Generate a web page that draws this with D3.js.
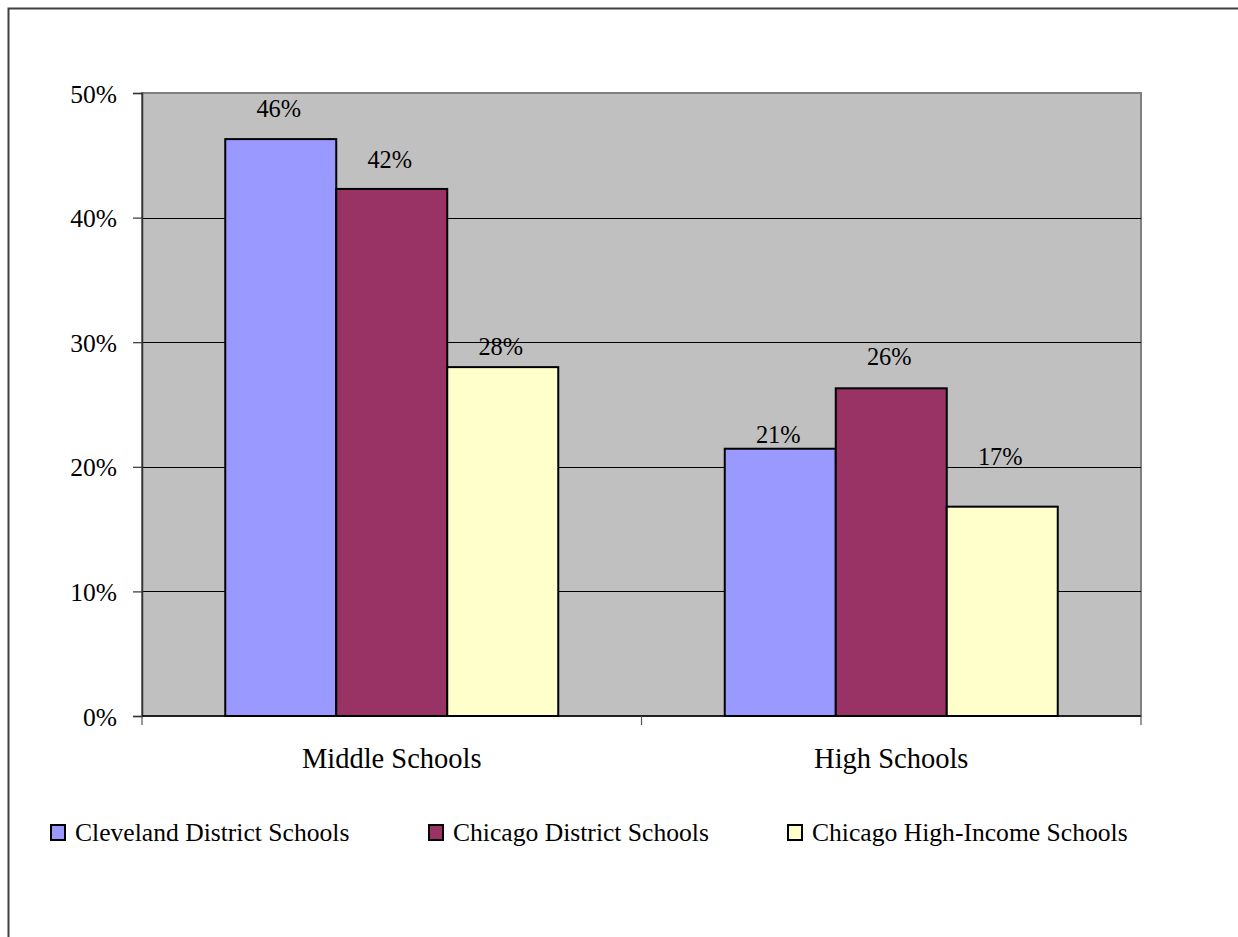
<!DOCTYPE html>
<html>
<head>
<meta charset="utf-8">
<script src="https://cdn.jsdelivr.net/npm/d3@7"></script>
<style>
  html, body { margin: 0; padding: 0; background: #fff; }
  svg { display: block; }
  text { font-family: "Liberation Serif", "Times New Roman", serif; fill: #000; }
</style>
</head>
<body>
<script>
// ---- data ----
const categories = ["Middle Schools", "High Schools"];
const seriesNames = ["Cleveland District Schools", "Chicago District Schools", "Chicago High-Income Schools"];
const cleveland = [46.3, 21.45];
const chicago = [42.3, 26.3];
const highIncome = [28.0, 16.8];
const yTicks = [0, 10, 20, 30, 40, 50];

// ---- layout / style (not data) ----
const W = 1238, H = 937;
const colors = ["#9999FF", "#993366", "#FFFFCC"];
const plot = { left: 142, right: 1141, top: 93, bottom: 716 };
// vertical gap between each data label baseline and its bar top (series x category)
const labelGap = [[22, 6], [21, 23], [12, 42]];

const seriesValues = [cleveland, chicago, highIncome];

const svg = d3.select("body").append("svg").attr("width", W).attr("height", H);

// outer chart border (extends past the window right/bottom)
svg.append("rect")
  .attr("x", 8.5).attr("y", 8.5).attr("width", W + 20).attr("height", H + 20)
  .attr("fill", "#fff").attr("stroke", "#404040").attr("stroke-width", 2);

const x0 = d3.scaleBand().domain(categories).range([plot.left, plot.right]).paddingInner(0).paddingOuter(0);
const x1 = d3.scaleBand().domain(d3.range(seriesNames.length)).range([0, x0.bandwidth()]).paddingInner(0).paddingOuter(0.75);
const y = d3.scaleLinear().domain([0, 50]).range([plot.bottom, plot.top]);

// plot background
svg.append("rect")
  .attr("x", plot.left).attr("y", plot.top)
  .attr("width", plot.right - plot.left).attr("height", plot.bottom - plot.top)
  .attr("fill", "#C0C0C0").attr("stroke", "#808080").attr("stroke-width", 2);

// gridlines
svg.append("g").selectAll("line")
  .data(yTicks.filter(t => t > 0 && t < 50))
  .join("line")
  .attr("x1", plot.left).attr("x2", plot.right)
  .attr("y1", d => Math.round(y(d)) + 0.5).attr("y2", d => Math.round(y(d)) + 0.5)
  .attr("stroke", "#000").attr("stroke-width", 1);

// y axis
const yAxis = svg.append("g")
  .attr("transform", `translate(${plot.left},0)`)
  .call(d3.axisLeft(y).tickValues(yTicks).tickFormat(d => d + "%").tickSize(9).tickPadding(16));
yAxis.select(".domain").attr("stroke", "#333").attr("stroke-width", 1.5);
yAxis.selectAll(".tick line").attr("stroke", "#333").attr("stroke-width", 1.2);
yAxis.selectAll(".tick text")
  .style("font-family", '"Liberation Serif", "Times New Roman", serif')
  .style("font-size", "25.5px").attr("fill", "#000").attr("dy", "0.36em");

// bars
const groups = svg.append("g").selectAll("g")
  .data(categories)
  .join("g")
  .attr("transform", d => `translate(${x0(d)},0)`);

groups.selectAll("rect")
  .data((c, ci) => seriesValues.map((vals, si) => ({ si, ci, v: vals[ci] })))
  .join("rect")
  .attr("x", d => x1(d.si))
  .attr("width", x1.bandwidth())
  .attr("y", d => y(d.v))
  .attr("height", d => y(0) - y(d.v))
  .attr("fill", d => colors[d.si])
  .attr("stroke", "#000").attr("stroke-width", 2);

groups.selectAll("text")
  .data((c, ci) => seriesValues.map((vals, si) => ({ si, ci, v: vals[ci] })))
  .join("text")
  .attr("x", d => x1(d.si) + x1.bandwidth() / 2 - 2)
  .attr("y", d => y(d.v) - labelGap[d.si][d.ci])
  .attr("text-anchor", "middle")
  .style("font-size", "24.4px")
  .text(d => Math.round(d.v) + "%");

// x axis
svg.append("line")
  .attr("x1", plot.left).attr("x2", plot.right)
  .attr("y1", plot.bottom).attr("y2", plot.bottom)
  .attr("stroke", "#000").attr("stroke-width", 1.5);
const xTickPos = [plot.left, ...categories.slice(1).map(c => x0(c)), plot.right];
svg.append("g").selectAll("line")
  .data(xTickPos)
  .join("line")
  .attr("x1", d => d).attr("x2", d => d)
  .attr("y1", plot.bottom).attr("y2", plot.bottom + 9)
  .attr("stroke", "#555").attr("stroke-width", 1.2);
svg.append("g").selectAll("text")
  .data(categories)
  .join("text")
  .attr("x", d => x0(d) + x0.bandwidth() / 2)
  .attr("y", 768)
  .attr("text-anchor", "middle")
  .style("font-size", "28.5px")
  .text(d => d);

// legend
const legendX = [50, 428, 787];
const legend = svg.append("g").selectAll("g")
  .data(seriesNames)
  .join("g")
  .attr("transform", (d, i) => `translate(${legendX[i]},824)`);
legend.append("rect")
  .attr("x", 1).attr("y", 1).attr("width", 14).attr("height", 15)
  .attr("fill", (d, i) => colors[i]).attr("stroke", "#000").attr("stroke-width", 2);
legend.append("text")
  .attr("x", 25).attr("y", 17)
  .style("font-size", "25.6px")
  .text(d => d);
</script>
</body>
</html>
